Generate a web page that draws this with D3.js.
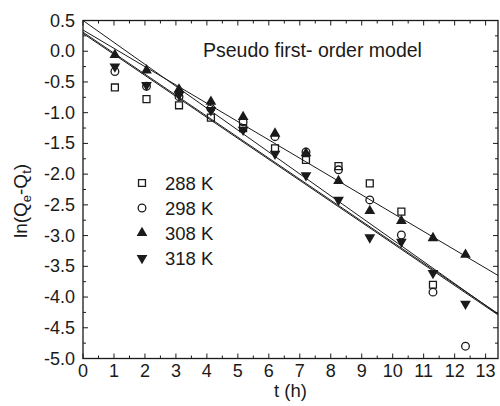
<!DOCTYPE html>
<html>
<head>
<meta charset="utf-8">
<script src="https://cdn.jsdelivr.net/npm/d3@7"></script>
<style>
  html, body { margin: 0; padding: 0; background: #fff; }
  svg { display: block; font-family: "Liberation Sans", Arial, sans-serif; }
</style>
</head>
<body>
<svg id="chart" width="500" height="406"></svg>
<script>
// Sampling times (h)
const times = [1.03, 2.05, 3.1, 4.13, 5.17, 6.2, 7.2, 8.25, 9.26, 10.28, 11.3, 12.35];

// ln(Qe - Qt) for each temperature
const series288 = [-0.59, -0.78, -0.88, -1.08, -1.25, -1.58, -1.77, -1.87, -2.15, -2.61, -3.80];
const series298 = [-0.33, -0.57, -0.74, -0.93, -1.15, -1.39, -1.64, -1.93, -2.42, -2.99, -3.92, -4.80];
const series308 = [-0.06, -0.31, -0.62, -0.82, -1.07, -1.34, -1.66, -2.11, -2.60, -2.76, -3.04, -3.31];
const series318 = [-0.25, -0.55, -0.71, -0.96, -1.28, -1.67, -2.02, -2.42, -3.03, -3.10, -3.61, -4.11];

const seriesLabels = ["288 K", "298 K", "308 K", "318 K"];

// Linear pseudo first-order fits: ln(Qe-Qt) = intercept + slope * t
const fitIntercepts = [0.29, 0.50, 0.345, 0.31];
const fitSlopes = [-0.3418, -0.3567, -0.298, -0.3418];

const xTicks = d3.range(0, 14, 1);
const yTicks = d3.range(-5, 0.51, 0.5);

const svg = d3.select("#chart");
const plotL = 83, plotR = 498, plotT = 20.5, plotB = 358.5;

const x = d3.scaleLinear().domain([0, 13.4]).range([plotL, plotR]);
const y = d3.scaleLinear().domain([-5, 0.5]).range([plotB, plotT]);

const ink = "#1a1a1a";

svg.append("clipPath").attr("id", "plotClip")
  .append("rect").attr("x", plotL).attr("y", plotT)
  .attr("width", plotR - plotL).attr("height", plotB - plotT);

// Fitted lines
const lineGroup = svg.append("g").attr("clip-path", "url(#plotClip)");
fitIntercepts.forEach((b, i) => {
  const m = fitSlopes[i];
  const pts = [0, 13.4].map(t => [t, b + m * t]);
  lineGroup.append("path")
    .attr("d", d3.line().x(d => x(d[0])).y(d => y(d[1]))(pts))
    .attr("fill", "none")
    .attr("stroke", ink)
    .attr("stroke-width", 1);
});

// Symbols
const symSquare = d3.symbol().type(d3.symbolSquare).size(48)();
const symCircle = d3.symbol().type(d3.symbolCircle).size(46)();
const symTri = d3.symbol().type(d3.symbolTriangle).size(50)();

function drawMarker(g, kind, cx, cy) {
  if (kind === 0) {
    g.append("path").attr("d", symSquare).attr("transform", `translate(${cx},${cy})`)
      .attr("fill", "none").attr("stroke", ink).attr("stroke-width", 1.3);
  } else if (kind === 1) {
    g.append("path").attr("d", symCircle).attr("transform", `translate(${cx},${cy})`)
      .attr("fill", "none").attr("stroke", ink).attr("stroke-width", 1.3);
  } else if (kind === 2) {
    g.append("path").attr("d", symTri).attr("transform", `translate(${cx},${cy})`)
      .attr("fill", ink);
  } else {
    g.append("path").attr("d", symTri).attr("transform", `translate(${cx},${cy}) rotate(180)`)
      .attr("fill", ink);
  }
}

const allSeries = [series288, series298, series308, series318];
const markerGroup = svg.append("g");
allSeries.forEach((vals, k) => {
  vals.forEach((v, i) => drawMarker(markerGroup, k, x(times[i]), y(v)));
});

// Frame with inward ticks on all four sides
const fmtY = d => d3.format(".1f")(d).replace("−", "-");
const axisG = svg.append("g");

function addTicks(scale, values, len, orient) {
  values.forEach(v => {
    const p = scale(v);
    let x1, y1, x2, y2;
    if (orient === "bottom") { x1 = x2 = p; y1 = plotB; y2 = plotB - len; }
    if (orient === "top") { x1 = x2 = p; y1 = plotT; y2 = plotT + len; }
    if (orient === "left") { y1 = y2 = p; x1 = plotL; x2 = plotL + len; }
    if (orient === "right") { y1 = y2 = p; x1 = plotR; x2 = plotR - len; }
    axisG.append("line").attr("x1", x1).attr("y1", y1).attr("x2", x2).attr("y2", y2)
      .attr("stroke", ink).attr("stroke-width", 1);
  });
}

const xMinor = d3.range(0.5, 13.4, 1);
const yMinor = d3.range(-4.75, 0.5, 0.5);
["bottom", "top"].forEach(o => { addTicks(x, xTicks, 5, o); addTicks(x, xMinor, 3, o); });
["left", "right"].forEach(o => { addTicks(y, yTicks, 5, o); addTicks(y, yMinor, 3, o); });

axisG.append("rect").attr("x", plotL).attr("y", plotT)
  .attr("width", plotR - plotL).attr("height", plotB - plotT)
  .attr("fill", "none").attr("stroke", ink).attr("stroke-width", 1.3);

// Tick labels
xTicks.forEach(t => {
  svg.append("text").attr("x", x(t)).attr("y", plotB + 18)
    .attr("text-anchor", "middle").attr("font-size", 18).attr("fill", ink)
    .text(t);
});
yTicks.forEach(v => {
  svg.append("text").attr("x", plotL - 8).attr("y", y(v) + 6)
    .attr("text-anchor", "end").attr("font-size", 18).attr("fill", ink)
    .text(fmtY(v));
});

// Axis titles
svg.append("text").attr("x", (plotL + plotR) / 2).attr("y", 397)
  .attr("text-anchor", "middle").attr("font-size", 18.5).attr("fill", ink)
  .text("t (h)");

const yTitle = svg.append("text")
  .attr("transform", "translate(27,201) rotate(-90)")
  .attr("text-anchor", "middle").attr("font-size", 19).attr("fill", ink);
yTitle.append("tspan").text("ln(Q");
yTitle.append("tspan").attr("font-size", 13).attr("dy", 4).text("e");
yTitle.append("tspan").attr("dy", -4).text("-Q");
yTitle.append("tspan").attr("font-size", 13).attr("dy", 4).text("t");
yTitle.append("tspan").attr("dy", -4).text(")");

// Panel title
svg.append("text").attr("x", 203).attr("y", 57)
  .attr("font-size", 19.5).attr("fill", ink)
  .text("Pseudo first- order model");

// Legend
const legendRows = [183, 208, 233, 258];
seriesLabels.forEach((lab, k) => {
  drawMarker(svg, k, 142, legendRows[k]);
  svg.append("text").attr("x", 165).attr("y", legendRows[k] + 6.5)
    .attr("font-size", 18.5).attr("fill", ink).text(lab);
});
</script>
</body>
</html>
